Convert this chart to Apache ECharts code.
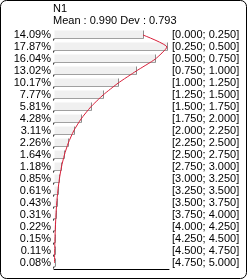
<!DOCTYPE html>
<html><head><meta charset="utf-8">
<script src="https://cdn.jsdelivr.net/npm/echarts@6/dist/echarts.min.js"></script>
<style>html,body{margin:0;padding:0;background:#fff}#c{width:248px;height:280px}</style>
</head><body><div id="c"></div>
<script>
const titleText = 'N1';
const subText = 'Mean : 0.990 Dev : 0.793';
const intervals = ['[0.000; 0.250]','[0.250; 0.500]','[0.500; 0.750]','[0.750; 1.000]','[1.000; 1.250]','[1.250; 1.500]','[1.500; 1.750]','[1.750; 2.000]','[2.000; 2.250]','[2.250; 2.500]','[2.500; 2.750]','[2.750; 3.000]','[3.000; 3.250]','[3.250; 3.500]','[3.500; 3.750]','[3.750; 4.000]','[4.000; 4.250]','[4.250; 4.500]','[4.500; 4.750]','[4.750; 5.000]'];
const percents = [14.09,17.87,16.04,13.02,10.17,7.77,5.81,4.28,3.11,2.26,1.64,1.18,0.85,0.61,0.43,0.31,0.22,0.15,0.11,0.08];
const percentLabels = percents.map(v => v.toFixed(2) + '%');

const FONT = 'Liberation Sans';
const chart = echarts.init(document.getElementById('c'), null, {renderer:'canvas'});
chart.setOption({
  animation:false,
  title:{text:titleText, subtext:subText, left:53, top:3, itemGap:0,
    textStyle:{fontFamily:FONT,fontSize:11,fontWeight:'normal',color:'#000',lineHeight:12},
    subtextStyle:{fontFamily:FONT,fontSize:11,color:'#000',lineHeight:12}, padding:0},
  graphic:[{type:'rect',shape:{x:0.5,y:0.5,width:246,height:278,r:6},style:{fill:'none',stroke:'#000',lineWidth:1},silent:true,z:100}],
  grid:{left:54,right:79,top:29,bottom:11},
  xAxis:{type:'value',min:0,max:18.2,axisLabel:{show:false},splitLine:{show:false},axisTick:{show:false},
    axisLine:{show:true,lineStyle:{color:'#000',width:1}}},
  yAxis:[
    {type:'category',inverse:true,data:percentLabels,position:'left',axisLine:{show:false},axisTick:{show:false},
      axisLabel:{interval:0,fontFamily:FONT,fontSize:11,color:'#000',margin:3}},
    {type:'category',inverse:true,data:intervals,position:'right',axisLine:{show:false},axisTick:{show:false},
      axisLabel:{interval:0,fontFamily:FONT,fontSize:11,color:'#000',margin:3}}
  ],
  series:[
    {type:'custom',yAxisIndex:0,data:percents.map((v,i)=>[v,i]),encode:{x:0,y:1},
      renderItem:function(params,api){
        const end = api.coord([api.value(0), api.value(1)]);
        const start = api.coord([0, api.value(1)]);
        const top = Math.round(end[1]) - 4.5, bot = Math.round(end[1]) + 3.5;
        const x0 = Math.round(start[0]) + 0.5, x1 = Math.round(end[0]) + 0.5;
        return {type:'group',children:[
          {type:'rect',shape:{x:x0,y:top,width:x1-x0,height:bot-top},style:{fill:'#f0f0f0'}},
          {type:'line',shape:{x1:x0,y1:bot,x2:x1,y2:bot},style:{stroke:'#a0a0a0',lineWidth:1}},
          {type:'line',shape:{x1:x1,y1:top,x2:x1,y2:bot},style:{stroke:'#8c8c8c',lineWidth:1}},
          {type:'line',shape:{x1:x0-0.5,y1:bot,x2:x0-1,y2:bot+2},style:{stroke:'#000',lineWidth:1}}
        ]};
      }},
    {type:'line',yAxisIndex:0,data:percents.map((v,i)=>[v,i]),encode:{x:0,y:1},smooth:0.18,showSymbol:false,symbol:'none',
      lineStyle:{color:'#d8203a',width:1},z:5}
  ]
});
</script></body></html>
